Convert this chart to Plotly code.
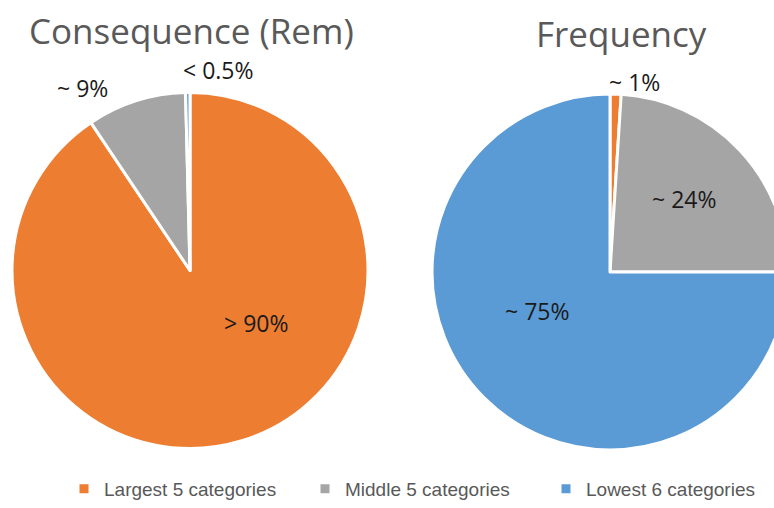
import plotly.graph_objects as go

# Category names and colours
categories = ["Largest 5 categories", "Middle 5 categories", "Lowest 6 categories"]
colors = ["#ED7D31", "#A5A5A5", "#5B9BD5"]

# Share of consequence (Rem) and of frequency per category group, in percent
consequence = [90.6, 9.0, 0.4]
frequency = [1.0, 24.0, 75.0]

# Slice labels
consequence_labels = ["> 90%", "~ 9%", "< 0.5%"]
frequency_labels = ["~ 1%", "~ 24%", "~ 75%"]

titles = ["Consequence (Rem)", "Frequency"]

W, H = 790, 508


def px_x(x):
    return x / W


def px_y(y):
    return 1 - y / H


fig = go.Figure()

fig.add_trace(go.Pie(
    labels=categories, values=consequence, sort=False, direction="clockwise",
    rotation=0, marker=dict(colors=colors, line=dict(color="white", width=3)),
    textinfo="none", hoverinfo="label+percent",
    domain=dict(x=[px_x(12), px_x(368)], y=[px_y(449), px_y(92)]),
    showlegend=True,
))
fig.add_trace(go.Pie(
    labels=categories, values=frequency, sort=False, direction="clockwise",
    rotation=0, marker=dict(colors=colors, line=dict(color="white", width=3)),
    textinfo="none", hoverinfo="label+percent",
    domain=dict(x=[px_x(432), px_x(788)], y=[px_y(450), px_y(94)]),
    showlegend=False,
))

label_font = dict(family="Open Sans, sans-serif", size=23, color="#1a1a1a")
annotations = []

# Titles
for t, cx, cy in zip(titles, [191, 621], [30, 33]):
    annotations.append(dict(text=t, x=px_x(cx), y=px_y(cy), xref="paper", yref="paper",
                            showarrow=False, xanchor="center", yanchor="middle",
                            font=dict(family="Open Sans, sans-serif", size=35, color="#595959")))

# Slice labels
for txt, (x, y) in zip(consequence_labels, [(256, 323), (82, 88), (218, 70)]):
    annotations.append(dict(text=txt, x=px_x(x), y=px_y(y), xref="paper", yref="paper",
                            showarrow=False, xanchor="center", yanchor="middle", font=label_font))
for txt, (x, y) in zip(frequency_labels, [(634, 82), (684, 199), (537, 311)]):
    annotations.append(dict(text=txt, x=px_x(x), y=px_y(y), xref="paper", yref="paper",
                            showarrow=False, xanchor="center", yanchor="middle", font=label_font))

fig.update_layout(
    width=W, height=H,
    margin=dict(l=0, r=0, t=0, b=0),
    paper_bgcolor="white", plot_bgcolor="white",
    annotations=annotations,
    legend=dict(orientation="h", x=px_x(64), xanchor="left", y=0.0, yanchor="bottom",
                font=dict(family="Liberation Sans Narrow, Arial Narrow, sans-serif", size=19,
                          color="#595959"),
                itemwidth=30, entrywidth=196, traceorder="normal"),
)

fig.write_html("out.html",
               post_script="document.documentElement.style.overflow='hidden';"
                           "document.body.style.overflow='hidden';")
